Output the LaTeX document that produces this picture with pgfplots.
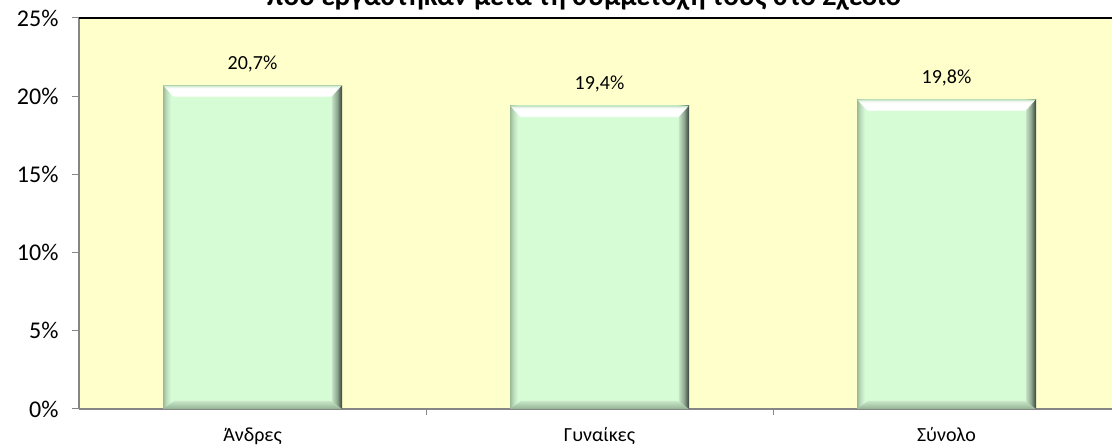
\documentclass[border=0pt]{standalone}
\usepackage{pgfplots}
\usepackage{pgfplotstable}
\pgfplotsset{compat=1.18}
\usepackage{fontspec}
\setmainfont{Carlito}
\definecolor{bgyellow}{HTML}{FFFFCC}
\definecolor{barfill}{HTML}{D6FCD6}
\definecolor{axgray}{HTML}{868686}
\definecolor{leftedge}{HTML}{98B898}
\definecolor{leftmid}{HTML}{BCDCBC}
\definecolor{rightlight}{HTML}{C4E2C4}
\definecolor{rightmid}{HTML}{8FA88F}
\definecolor{rightdeep}{HTML}{56665A}
\definecolor{rightdark}{HTML}{3A443A}
\definecolor{topedge}{HTML}{B8D8B8}
\definecolor{toplight}{HTML}{DCF0DC}
\definecolor{botlight}{HTML}{C6E6C6}
\definecolor{botmid}{HTML}{9CBA9C}
\definecolor{botdark}{HTML}{7C987C}
\pgfdeclarehorizontalshading{sidebev}{100bp}{color(0bp)=(leftedge); color(25bp)=(leftedge); color(25.9bp)=(leftmid); color(27.2bp)=(barfill); color(71.9bp)=(barfill); color(72.2bp)=(rightlight); color(73.6bp)=(rightmid); color(74.5bp)=(rightdeep); color(75bp)=(rightdark); color(100bp)=(rightdark)}
\pgfdeclareverticalshading{topbev}{100bp}{color(0bp)=(barfill); color(25bp)=(barfill); color(33bp)=(white); color(62bp)=(white); color(71bp)=(toplight); color(75bp)=(topedge); color(100bp)=(topedge)}
\pgfdeclareverticalshading{botbev}{100bp}{color(0bp)=(botdark); color(25bp)=(botdark); color(32bp)=(botmid); color(75bp)=(botlight); color(100bp)=(botlight)}
\pgfdeclareplotmark{topbevel}{%
  \pgfpathmoveto{\pgfpoint{-89.5pt}{0pt}}%
  \pgfpathlineto{\pgfpoint{89.5pt}{0pt}}%
  \pgfpathlineto{\pgfpoint{78.5pt}{-12pt}}%
  \pgfpathlineto{\pgfpoint{-78.5pt}{-12pt}}%
  \pgfpathclose
  \pgfshadepath{topbev}{0}%
  \pgfusepath{}%
}
\pgfdeclareplotmark{botbevel}{%
  \pgfpathmoveto{\pgfpoint{-89.5pt}{0pt}}%
  \pgfpathlineto{\pgfpoint{89.5pt}{0pt}}%
  \pgfpathlineto{\pgfpoint{78.5pt}{8pt}}%
  \pgfpathlineto{\pgfpoint{-78.5pt}{8pt}}%
  \pgfpathclose
  \pgfshadepath{botbev}{0}%
  \pgfusepath{}%
}
\pgfplotstableread{
x y label
0 20.7 {20,7\%}
1 19.4 {19,4\%}
2 19.8 {19,8\%}
}\datatable
\pgfplotsset{bevelbar/.style={ybar, bar width=179pt, bar shift=0pt, draw=none, shade, shading=sidebev,
  point meta=explicit symbolic, nodes near coords,
  every node near coord/.append style={font=\fontsize{20}{24}\selectfont, anchor=base, inner sep=0pt, yshift=16pt, text=black}}}
\begin{document}
\begin{tikzpicture}
\useasboundingbox (0,0) rectangle (1112pt,446pt);
\clip (0,0) rectangle (1112pt,446pt);
\node[anchor=base, inner sep=0pt, font=\fontsize{29}{34}\selectfont\bfseries] at (584pt,440pt) {που εργάστηκαν μετά τη συμμετοχή τους στο Σχέδιο};
\begin{axis}[
  at={(79pt,37pt)}, anchor=south west,
  scale only axis, width=1041pt, height=391pt,
  xmin=-0.5, xmax=2.5, ymin=0, ymax=25,
  axis background/.style={fill=bgyellow},
  axis x line*=bottom, axis y line*=left,
  axis line style={axgray, line width=1.2pt, -},
  xtick={0,1,2}, xticklabels={Άνδρες,Γυναίκες,Σύνολο},
  minor xtick={0.5,1.5},
  major x tick style={draw=none},
  minor x tick style={axgray, line width=1pt},
  minor tick length=6pt,
  ytick={0,5,10,15,20,25},
  yticklabels={0\%,5\%,10\%,15\%,20\%,25\%},
  y tick style={axgray, line width=1pt},
  major tick length=7pt,
  tick align=outside,
  yticklabel style={font=\fontsize{24}{28}\selectfont, xshift=-10pt},
  xticklabel style={font=\fontsize{20}{24}\selectfont, yshift=-8pt},
  after end axis/.code={\draw[black, line width=2pt] (rel axis cs:0,1) -- (rel axis cs:1,1);},
  clip=false,
]
\addplot[bevelbar, restrict x to domain=-0.2:0.2] table[meta=label] {\datatable};
\addplot[bevelbar, restrict x to domain=0.8:1.2] table[meta=label] {\datatable};
\addplot[bevelbar, restrict x to domain=1.8:2.2] table[meta=label] {\datatable};
\addplot[only marks, mark=topbevel] table {\datatable};
\addplot[only marks, mark=botbevel] table[y expr=0] {\datatable};
\end{axis}
\end{tikzpicture}
\end{document}
